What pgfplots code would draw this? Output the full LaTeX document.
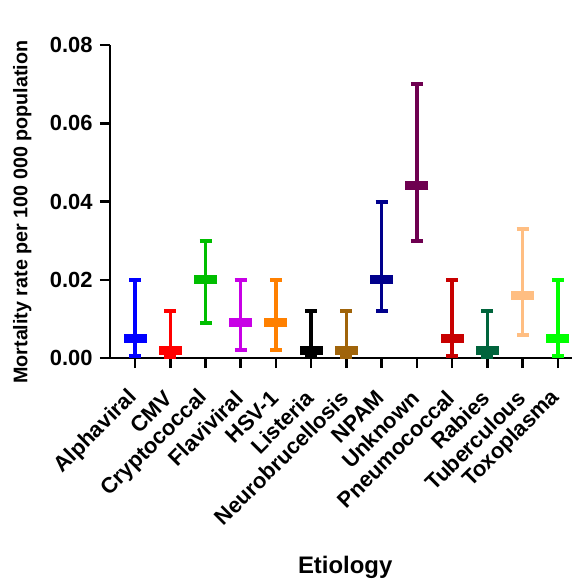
\documentclass[border=0pt]{standalone}
\usepackage{pgfplots}
\pgfplotsset{compat=1.18}
\usepackage{fontspec}
\setmainfont{Liberation Sans}
\definecolor{c1}{RGB}{0,0,255}
\definecolor{c2}{RGB}{255,0,0}
\definecolor{c3}{RGB}{0,190,0}
\definecolor{c4}{RGB}{200,0,230}
\definecolor{c5}{RGB}{255,128,0}
\definecolor{c6}{RGB}{0,0,0}
\definecolor{c7}{RGB}{160,100,10}
\definecolor{c8}{RGB}{0,0,140}
\definecolor{c9}{RGB}{110,0,80}
\definecolor{c10}{RGB}{200,0,0}
\definecolor{c11}{RGB}{0,100,60}
\definecolor{c12}{RGB}{255,190,130}
\definecolor{c13}{RGB}{0,255,0}
\pgfplotsset{
  ebar/.style={color=#1, only marks, solid, mark=-, mark size=11.5bp,
    mark options={line width=9bp, solid, color=#1},
    error bars/.cd, y dir=both, y explicit,
    error bar style={line width=3.5bp, color=#1, solid},
    error mark options={rotate=90, mark size=6bp, line width=4bp, color=#1, solid}},
}
\begin{document}
\begin{tikzpicture}
\begin{axis}[
  scale only axis, width=462bp, height=313bp,
  xmin=-0.71, xmax=12.4, ymin=0, ymax=0.08,
  clip=false,
  axis x line*=bottom, axis y line*=left,
  axis line style={line width=2.5bp, -},
  tick style={line width=2.5bp, black},
  tick align=outside, major tick length=10bp,
  ytick={0,0.02,0.04,0.06,0.08},
  scaled y ticks=false,
  yticklabel style={/pgf/number format/.cd, fixed, fixed zerofill, precision=2, /tikz/.cd, xshift=-4bp},
  /pgf/number format/assume math mode=true,
  ticklabel style={font=\bfseries\fontsize{22}{26}\selectfont},
  xtick={0,...,12},
  xticklabels={Alphaviral,CMV,Cryptococcal,Flaviviral,HSV-1,Listeria,Neurobrucellosis,NPAM,Unknown,Pneumococcal,Rabies,Tuberculous,Toxoplasma},
  xticklabel style={rotate=45, anchor=east, inner sep=2bp},
  xticklabel shift=25bp,
  ylabel={Mortality rate per 100 000 population},
  ylabel style={font=\bfseries\fontsize{19.8}{22}\selectfont, at={(axis description cs:-0.19,0.466)}, anchor=center},
  xlabel={Etiology},
  xlabel style={font=\bfseries\fontsize{24}{28}\selectfont, at={(axis description cs:0.509,-0.668)}, anchor=center},
]
\addplot[ebar=c1] coordinates {(0,0.005) += (0,0.015) -= (0,0.0045)};
\addplot[ebar=c2] coordinates {(1,0.002) += (0,0.010) -= (0,0.0017)};
\addplot[ebar=c3] coordinates {(2,0.020) += (0,0.010) -= (0,0.011)};
\addplot[ebar=c4] coordinates {(3,0.009) += (0,0.011) -= (0,0.007)};
\addplot[ebar=c5] coordinates {(4,0.009) += (0,0.011) -= (0,0.007)};
\addplot[ebar=c6] coordinates {(5,0.002) += (0,0.010) -= (0,0.0017)};
\addplot[ebar=c7] coordinates {(6,0.002) += (0,0.010) -= (0,0.0017)};
\addplot[ebar=c8] coordinates {(7,0.020) += (0,0.020) -= (0,0.008)};
\addplot[ebar=c9] coordinates {(8,0.044) += (0,0.026) -= (0,0.014)};
\addplot[ebar=c10] coordinates {(9,0.005) += (0,0.015) -= (0,0.0045)};
\addplot[ebar=c11] coordinates {(10,0.002) += (0,0.010) -= (0,0.0017)};
\addplot[ebar=c12] coordinates {(11,0.016) += (0,0.017) -= (0,0.010)};
\addplot[ebar=c13] coordinates {(12,0.005) += (0,0.015) -= (0,0.0045)};
\end{axis}
\pgfresetboundingbox
\path (-110bp,-222bp) rectangle (465bp,358bp);
\end{tikzpicture}
\end{document}
